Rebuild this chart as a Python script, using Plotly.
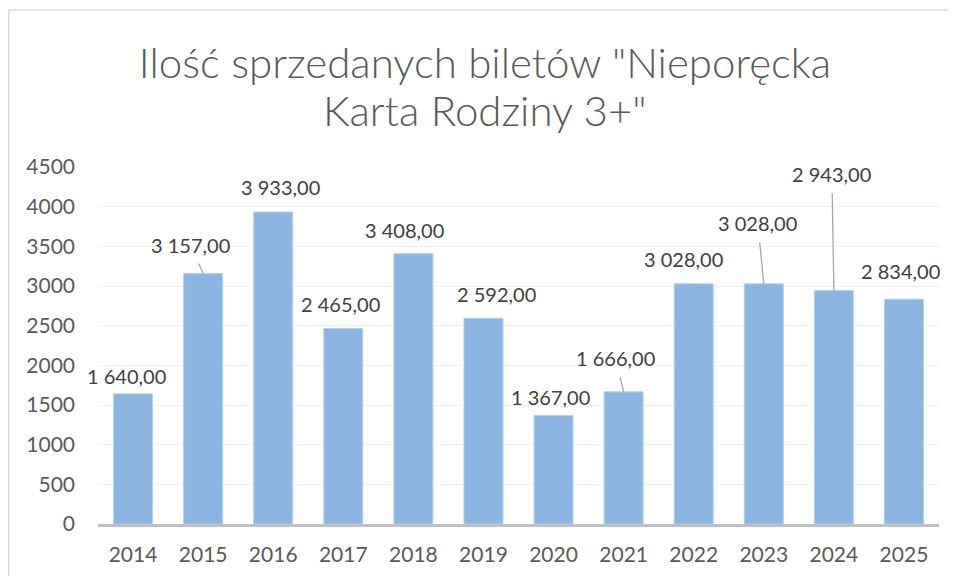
import plotly.graph_objects as go

years = ["2014", "2015", "2016", "2017", "2018", "2019", "2020", "2021", "2022", "2023", "2024", "2025"]
tickets = [1640, 3157, 3933, 2465, 3408, 2592, 1367, 1666, 3028, 3028, 2943, 2834]
title_line1 = 'Ilość sprzedanych biletów "Nieporęcka'
title_line2 = 'Karta Rodziny 3+"'
y_ticks = [0, 500, 1000, 1500, 2000, 2500, 3000, 3500, 4000, 4500]

# label placement (pixel offsets of label centre from bar-top centre) and whether a leader line is drawn
label_dx = [-7, -13, 7, -3, -9, 13, -3, -8, -10, -6, -2, -3]
label_dy = [18, 29, 25, 24, 24, 24, 19, 34, 24.5, 61, 117, 28]
leader = [False, True, False, False, False, False, False, True, False, True, True, False]


def fmt(v):
    s = f"{v:,.2f}"
    return s.replace(",", " ").replace(".", ",")


FONT = "Lato"
# plot area in figure pixels
L, R, T, B = 90, 931, 159, 516
W, H = 956, 576
PH = B - T
PW = R - L

fig = go.Figure()
fig.add_trace(go.Bar(
    x=years, y=tickets,
    marker=dict(color="#8CB6E1", line=dict(color="#B3D0EE", width=1)),
    hoverinfo="x+y",
))

annotations = []
for i, (v, dx, dy, ld) in enumerate(zip(tickets, label_dx, label_dy, leader)):
    if ld:
        annotations.append(dict(
            x=i, y=v, xref="x", yref="y", text=fmt(v),
            showarrow=True, arrowhead=0, arrowwidth=1.3, arrowcolor="#A6A6A6",
            ax=dx, ay=-dy, startstandoff=6,
            font=dict(family=FONT, size=20, color="#404040"),
        ))
    else:
        annotations.append(dict(
            x=i, y=v, xref="x", yref="y", text=fmt(v),
            showarrow=False, xshift=dx, yshift=dy,
            font=dict(family=FONT, size=20, color="#404040"),
        ))

title_font = dict(family="Lato Light, Lato", size=42, color="#595959", weight=300)
annotations.append(dict(
    x=(477 - L) / PW, y=(B - 102) / PH, xref="paper", yref="paper",
    xanchor="center", yanchor="middle", showarrow=False,
    text=title_line2, font=title_font,
))

fig.update_layout(
    width=W, height=H,
    margin=dict(l=L, r=W - R, t=T, b=H - B, autoexpand=False),
    paper_bgcolor="white", plot_bgcolor="white",
    bargap=0.444,
    showlegend=False,
    title=dict(
        text=title_line1, x=477 / W, xanchor="center", xref="container",
        y=1 - 55 / H, yanchor="middle", yref="container",
        font=title_font,
    ),
    xaxis=dict(
        type="category", range=[-0.5, len(years) - 0.5],
        showline=True, linecolor="#BFBFBF", linewidth=2.5,
        ticks="", ticklabelstandoff=10,
        tickfont=dict(family=FONT, size=21, color="#595959"),
        showgrid=False,
    ),
    yaxis=dict(
        range=[0, 4500], tickvals=y_ticks, ticktext=[str(t) for t in y_ticks],
        showline=False, zeroline=False, showgrid=True, gridcolor="#F0F0F0", gridwidth=1,
        ticks="", ticklabelstandoff=22,
        tickfont=dict(family=FONT, size=21, color="#595959"),
    ),
    annotations=annotations,
    shapes=[dict(
        type="rect", xref="paper", yref="paper",
        x0=(0.75 - L) / PW, x1=(1000 - L) / PW,
        y0=-0.5, y1=(B - 2) / PH,
        line=dict(color="#D9D9D9", width=1.5), fillcolor="rgba(0,0,0,0)", layer="below",
    )],
)

fig.write_html("out.html")
